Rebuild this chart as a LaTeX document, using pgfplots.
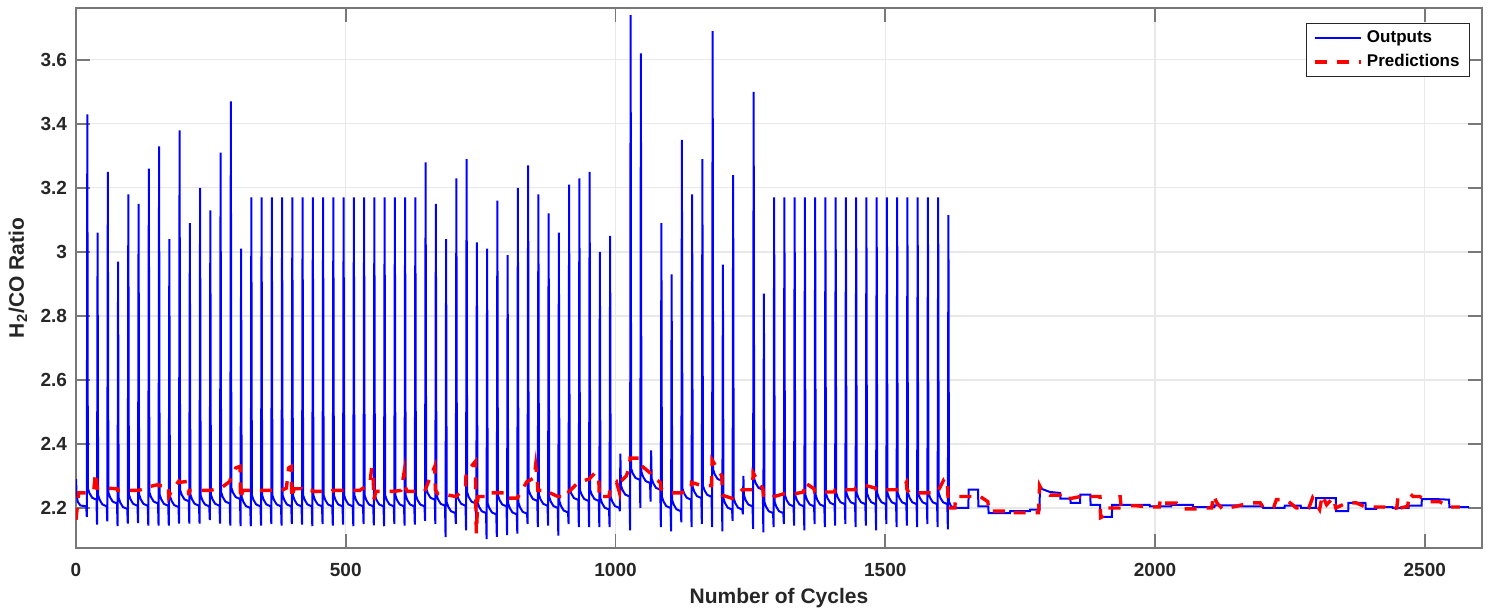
\documentclass[border=0pt]{standalone}
\usepackage{fontspec}
\setmainfont{Liberation Sans}
\usepackage{pgfplots}
\pgfplotsset{compat=1.18}
\definecolor{txt}{RGB}{38,38,38}
\definecolor{axc}{RGB}{120,120,120}
\definecolor{gridc}{RGB}{232,232,232}
\begin{document}
\begin{tikzpicture}
\begin{axis}[
  scale only axis, width=703pt, height=270pt,
  xmin=0, xmax=2606, ymin=2.075, ymax=3.762,
  xtick={0,500,1000,1500,2000,2500},
  ytick={2.2,2.4,2.6,2.8,3.0,3.2,3.4,3.6},
  scaled ticks=false,
  /pgf/number format/1000 sep={},
  /pgf/number format/assume math mode=true,
  tick align=inside, xtick pos=both, ytick pos=both,
  major tick length=7pt,
  tick style={color=axc, line width=0.8pt},
  axis line style={color=axc, line width=0.9pt},
  grid=major, major grid style={color=gridc, line width=0.6pt},
  ticklabel style={font=\fontsize{9.5}{11}\selectfont\bfseries, text=txt},
  xticklabel shift=4pt, yticklabel shift=1pt,
  xlabel={Number of Cycles}, ylabel={H\textsubscript{2}/CO Ratio},
  label style={font=\fontsize{10.5}{12}\selectfont\bfseries, text=txt},
  x label style={at={(axis description cs:0.5,-0.0926)}, anchor=center},
  y label style={at={(axis description cs:-0.0413,0.5)}, anchor=center},
  legend style={at={(rel axis cs:0.9915,0.972)}, anchor=north east,
    font=\fontsize{8.5}{10}\selectfont\bfseries, text=black,
    draw=txt, line width=0.5pt, fill=white, cells={anchor=west},
    inner xsep=3pt, inner ysep=1.5pt, row sep=0.5pt},
  legend image code/.code={\draw[#1] (0cm,0cm) -- (0.82cm,0cm);},
]
\addplot[color=blue, line width=1pt] coordinates {
(0,2.29)(1,2.25)(3,2.22)(8,2.208)(19,2.205)
(20,2.172)(21,3.43)(22,2.261)(25,2.246)(30,2.232)(38,2.226)
(39,2.148)(40,3.06)(41,2.24)(44,2.225)(49,2.211)(57,2.205)
(58,2.158)(59,3.25)(60,2.249)(63,2.234)(68,2.22)(76,2.214)
(77,2.143)(78,2.97)(79,2.232)(82,2.217)(87,2.203)(95,2.197)
(96,2.151)(97,3.18)(98,2.242)(101,2.227)(106,2.213)(114,2.207)
(115,2.153)(116,3.15)(117,2.242)(120,2.227)(125,2.213)(133,2.207)
(134,2.145)(135,3.26)(136,2.249)(139,2.234)(144,2.22)(152,2.214)
(153,2.145)(154,3.33)(155,2.242)(158,2.227)(163,2.213)(171,2.207)
(172,2.145)(173,3.04)(174,2.238)(177,2.223)(182,2.209)(190,2.203)
(191,2.151)(192,3.38)(193,2.256)(196,2.241)(201,2.227)(209,2.221)
(210,2.151)(211,3.09)(212,2.242)(215,2.227)(220,2.213)(228,2.207)
(229,2.151)(230,3.2)(231,2.24)(234,2.225)(239,2.211)(247,2.205)
(248,2.162)(249,3.13)(250,2.242)(253,2.227)(258,2.213)(266,2.207)
(267,2.151)(268,3.31)(269,2.249)(272,2.234)(277,2.22)(285,2.214)
(286,2.145)(287,3.47)(288,2.263)(291,2.248)(296,2.234)(304,2.228)
(305,2.143)(306,3.01)(307,2.235)(310,2.22)(315,2.206)(323,2.2)
(324,2.143)(325,3.17)(326,2.24)(329,2.225)(334,2.211)(342,2.205)
(343,2.145)(344,3.17)(345,2.24)(348,2.225)(353,2.211)(361,2.205)
(362,2.15)(363,3.17)(364,2.24)(367,2.225)(372,2.211)(380,2.205)
(381,2.145)(382,3.17)(383,2.24)(386,2.225)(391,2.211)(399,2.205)
(400,2.15)(401,3.17)(402,2.24)(405,2.225)(410,2.211)(418,2.205)
(419,2.148)(420,3.17)(421,2.24)(424,2.225)(429,2.211)(437,2.205)
(438,2.143)(439,3.17)(440,2.24)(443,2.225)(448,2.211)(456,2.205)
(457,2.15)(458,3.17)(459,2.24)(462,2.225)(467,2.211)(475,2.205)
(476,2.145)(477,3.17)(478,2.24)(481,2.225)(486,2.211)(494,2.205)
(495,2.148)(496,3.17)(497,2.24)(500,2.225)(505,2.211)(513,2.205)
(514,2.143)(515,3.17)(516,2.24)(519,2.225)(524,2.211)(532,2.205)
(533,2.15)(534,3.17)(535,2.24)(538,2.225)(543,2.211)(551,2.205)
(552,2.146)(553,3.17)(554,2.24)(557,2.225)(562,2.211)(570,2.205)
(571,2.143)(572,3.17)(573,2.24)(576,2.225)(581,2.211)(589,2.205)
(590,2.15)(591,3.17)(592,2.24)(595,2.225)(600,2.211)(608,2.205)
(609,2.145)(610,3.17)(611,2.24)(614,2.225)(619,2.211)(627,2.205)
(628,2.148)(629,3.17)(630,2.24)(633,2.225)(638,2.211)(646,2.205)
(647,2.16)(648,3.28)(649,2.261)(652,2.246)(657,2.232)(665,2.226)
(666,2.15)(667,3.15)(668,2.242)(671,2.227)(676,2.213)(684,2.207)
(685,2.109)(686,3.04)(687,2.219)(690,2.204)(695,2.19)(703,2.184)
(704,2.15)(705,3.23)(706,2.242)(709,2.227)(714,2.213)(722,2.207)
(723,2.13)(724,3.29)(725,2.249)(728,2.234)(733,2.22)(741,2.214)
(742,2.124)(743,3.03)(744,2.219)(747,2.204)(752,2.19)(760,2.184)
(761,2.103)(762,3.01)(763,2.215)(766,2.2)(771,2.186)(779,2.18)
(780,2.11)(781,3.16)(782,2.24)(785,2.225)(790,2.211)(798,2.205)
(799,2.115)(800,2.99)(801,2.215)(804,2.2)(809,2.186)(817,2.18)
(818,2.12)(819,3.2)(820,2.217)(823,2.202)(828,2.188)(836,2.182)
(837,2.15)(838,3.27)(839,2.257)(842,2.242)(847,2.228)(855,2.222)
(856,2.14)(857,3.18)(858,2.242)(861,2.227)(866,2.213)(874,2.207)
(875,2.145)(876,3.12)(877,2.235)(880,2.22)(885,2.206)(893,2.2)
(894,2.114)(895,3.06)(896,2.221)(899,2.206)(904,2.192)(912,2.186)
(913,2.15)(914,3.21)(915,2.26)(918,2.245)(923,2.231)(931,2.225)
(932,2.14)(933,3.23)(934,2.257)(937,2.242)(942,2.228)(950,2.222)
(951,2.14)(952,3.25)(953,2.257)(956,2.242)(961,2.228)(969,2.222)
(970,2.14)(971,3.0)(972,2.23)(975,2.215)(980,2.201)(988,2.195)
(989,2.14)(990,3.05)(991,2.235)(994,2.22)(999,2.206)(1007,2.2)
(1008,2.19)(1009,2.37)(1010,2.271)(1013,2.256)(1018,2.242)(1026,2.236)
(1027,2.13)(1028,3.74)(1029,2.323)(1032,2.308)(1037,2.294)(1045,2.288)
(1046,2.2)(1047,3.62)(1048,2.313)(1051,2.298)(1056,2.284)(1064,2.278)
(1065,2.22)(1066,2.38)(1067,2.292)(1070,2.277)(1075,2.263)(1083,2.257)
(1084,2.14)(1085,3.09)(1086,2.235)(1089,2.22)(1094,2.206)(1102,2.2)
(1103,2.127)(1104,2.93)(1105,2.225)(1108,2.21)(1113,2.196)(1121,2.19)
(1122,2.155)(1123,3.35)(1124,2.261)(1127,2.246)(1132,2.232)(1140,2.226)
(1141,2.14)(1142,3.18)(1143,2.266)(1146,2.251)(1151,2.237)(1159,2.231)
(1160,2.15)(1161,3.29)(1162,2.27)(1165,2.255)(1170,2.241)(1178,2.235)
(1179,2.14)(1180,3.69)(1181,2.32)(1184,2.305)(1189,2.291)(1197,2.285)
(1198,2.127)(1199,2.96)(1200,2.23)(1203,2.215)(1208,2.201)(1216,2.195)
(1217,2.16)(1218,3.24)(1219,2.23)(1222,2.215)(1227,2.201)(1235,2.195)
(1236,2.18)(1237,2.3)(1238,2.24)(1241,2.225)(1246,2.211)(1254,2.205)
(1255,2.135)(1256,3.5)(1257,2.292)(1260,2.277)(1265,2.263)(1273,2.257)
(1274,2.124)(1275,2.87)(1276,2.219)(1279,2.204)(1284,2.19)(1292,2.184)
(1293,2.14)(1294,3.17)(1295,2.219)(1298,2.204)(1303,2.19)(1311,2.184)
(1312,2.15)(1313,3.17)(1314,2.24)(1317,2.225)(1322,2.211)(1330,2.205)
(1331,2.145)(1332,3.17)(1333,2.24)(1336,2.225)(1341,2.211)(1349,2.205)
(1350,2.13)(1351,3.17)(1352,2.24)(1355,2.225)(1360,2.211)(1368,2.205)
(1369,2.15)(1370,3.17)(1371,2.24)(1374,2.225)(1379,2.211)(1387,2.205)
(1388,2.14)(1389,3.17)(1390,2.245)(1393,2.23)(1398,2.216)(1406,2.21)
(1407,2.145)(1408,3.17)(1409,2.247)(1412,2.232)(1417,2.218)(1425,2.212)
(1426,2.15)(1427,3.17)(1428,2.247)(1431,2.232)(1436,2.218)(1444,2.212)
(1445,2.14)(1446,3.17)(1447,2.247)(1450,2.232)(1455,2.218)(1463,2.212)
(1464,2.145)(1465,3.17)(1466,2.247)(1469,2.232)(1474,2.218)(1482,2.212)
(1483,2.13)(1484,3.17)(1485,2.247)(1488,2.232)(1493,2.218)(1501,2.212)
(1502,2.15)(1503,3.17)(1504,2.247)(1507,2.232)(1512,2.218)(1520,2.212)
(1521,2.14)(1522,3.17)(1523,2.247)(1526,2.232)(1531,2.218)(1539,2.212)
(1540,2.145)(1541,3.17)(1542,2.247)(1545,2.232)(1550,2.218)(1558,2.212)
(1559,2.14)(1560,3.17)(1561,2.247)(1564,2.232)(1569,2.218)(1577,2.212)
(1578,2.15)(1579,3.17)(1580,2.247)(1583,2.232)(1588,2.218)(1596,2.212)
(1597,2.14)(1598,3.17)(1599,2.247)(1602,2.232)(1607,2.218)(1615,2.212)
(1616,2.133)(1617,3.115)(1618,2.22)(1622,2.205)(1634,2.2)
(1654,2.2)(1654.5,2.257)(1672,2.257)(1672.5,2.205)(1691,2.205)(1691.5,2.184)
(1731,2.184)(1731.5,2.19)(1768,2.19)(1768.5,2.195)(1786,2.195)(1786.5,2.262)
(1805,2.25)(1824,2.247)(1824.5,2.229)(1843,2.229)(1843.5,2.216)(1861,2.216)
(1861.5,2.242)(1880,2.242)(1880.5,2.21)(1898,2.21)(1898.5,2.172)(1920,2.172)
(1920.5,2.21)(1990,2.21)(1990.5,2.205)(2030,2.205)(2030.5,2.21)(2070,2.21)
(2070.5,2.203)(2110,2.203)(2110.5,2.208)(2150,2.208)(2150.5,2.205)(2200,2.205)
(2200.5,2.2)(2240,2.2)(2240.5,2.207)(2270,2.207)(2270.5,2.2)(2298,2.2)
(2298.5,2.231)(2335,2.231)(2335.5,2.19)(2358,2.19)(2358.5,2.216)(2390,2.216)
(2390.5,2.197)(2410,2.197)(2410.5,2.203)(2440,2.203)(2440.5,2.2)(2470,2.2)
(2470.5,2.207)(2494,2.207)(2494.5,2.228)(2516,2.228)(2545,2.226)(2545.5,2.203)
(2582,2.203)
};
\addlegendentry{Outputs}
\addplot[color=red, line width=1.7pt, dash pattern=on 6pt off 5pt] coordinates {
(0,2.163)(5,2.247)(19,2.247)
(20,2.25)(33,2.255)(36,2.31)(38,2.285)
(39,2.262)(57,2.262)
(58,2.262)(76,2.26)
(77,2.255)(95,2.255)
(96,2.255)(114,2.255)
(115,2.255)(133,2.262)
(134,2.266)(152,2.273)
(153,2.27)(171,2.27)
(172,2.236)(176,2.25)(190,2.283)
(191,2.28)(207,2.283)(209,2.24)
(210,2.255)(228,2.255)
(229,2.255)(247,2.255)
(248,2.255)(266,2.26)
(267,2.26)(285,2.283)
(286,2.29)(296,2.325)(304,2.33)
(305,2.226)(309,2.255)(323,2.255)
(324,2.255)(342,2.255)
(343,2.255)(361,2.255)
(362,2.255)(380,2.255)
(381,2.255)(390,2.262)(394,2.325)(399,2.33)
(400,2.23)(404,2.26)(418,2.26)
(419,2.255)(437,2.255)
(438,2.252)(456,2.252)
(457,2.252)(475,2.252)
(476,2.255)(494,2.255)
(495,2.255)(513,2.255)
(514,2.255)(526,2.255)(532,2.262)
(533,2.262)(545,2.28)(548,2.325)(551,2.29)
(552,2.226)(556,2.252)(570,2.252)
(571,2.252)(589,2.252)
(590,2.252)(602,2.255)(605,2.28)(608,2.31)
(609,2.27)(614,2.252)(627,2.252)
(628,2.252)(646,2.252)
(647,2.255)(655,2.29)(665,2.33)
(666,2.257)(670,2.245)(684,2.245)
(685,2.242)(703,2.236)
(704,2.236)(722,2.262)
(723,2.31)(740,2.345)
(742,2.12)(745,2.236)(760,2.236)
(761,2.247)(779,2.247)
(780,2.247)(798,2.247)
(799,2.231)(817,2.231)
(818,2.231)(836,2.283)
(837,2.283)(849,2.294)(852,2.335)(855,2.29)
(856,2.255)(874,2.255)
(875,2.25)(893,2.236)
(894,2.236)(912,2.236)
(913,2.25)(931,2.28)
(932,2.28)(950,2.29)
(951,2.29)(962,2.31)(969,2.29)
(970,2.23)(977,2.236)(988,2.236)
(989,2.25)(1002,2.28)(1007,2.25)
(1008,2.28)(1020,2.30)(1026,2.33)
(1027,2.356)(1045,2.356)
(1046,2.335)(1064,2.31)
(1065,2.30)(1083,2.28)
(1084,2.26)(1102,2.247)
(1103,2.247)(1121,2.247)
(1122,2.247)(1140,2.26)
(1141,2.28)(1159,2.27)
(1160,2.27)(1178,2.27)
(1179,2.35)(1197,2.30)
(1198,2.24)(1216,2.23)
(1217,2.23)(1235,2.257)
(1236,2.257)(1254,2.257)
(1255,2.31)(1262,2.29)(1273,2.26)
(1274,2.24)(1292,2.23)
(1293,2.235)(1311,2.244)
(1312,2.244)(1330,2.244)
(1331,2.244)(1349,2.25)
(1350,2.28)(1368,2.26)
(1369,2.25)(1387,2.25)
(1388,2.25)(1406,2.25)
(1407,2.257)(1425,2.257)
(1426,2.257)(1444,2.257)
(1445,2.262)(1463,2.27)
(1464,2.27)(1482,2.262)
(1483,2.257)(1501,2.257)
(1502,2.257)(1520,2.257)
(1521,2.257)(1532,2.262)(1539,2.28)
(1540,2.26)(1544,2.247)(1558,2.247)
(1559,2.247)(1577,2.247)
(1578,2.247)(1596,2.247)
(1597,2.25)(1609,2.29)(1615,2.29)
(1617,2.20)(1629,2.20)(1630,2.236)(1660,2.236)(1672,2.24)(1690,2.22)
(1692,2.19)(1730,2.19)(1731,2.185)(1784,2.185)(1786,2.27)(1790,2.257)
(1805,2.24)(1824,2.24)(1825,2.23)(1845,2.23)(1862,2.236)(1898,2.236)
(1899,2.17)(1905,2.175)(1912,2.2)(1933,2.2)(1935,2.24)(1937,2.207)
(1965,2.207)(1990,2.203)(2008,2.203)(2010,2.23)(2018,2.215)(2040,2.215)
(2050,2.197)(2080,2.197)(2086,2.2)(2105,2.2)(2108,2.24)(2115,2.215)
(2125,2.197)(2150,2.205)(2175,2.216)(2195,2.216)(2200,2.203)(2220,2.203)
(2225,2.226)(2243,2.226)(2262,2.2)(2285,2.2)(2292,2.232)(2305,2.195)
(2310,2.24)(2318,2.21)(2330,2.232)(2335,2.2)(2355,2.216)(2373,2.216)
(2390,2.203)(2425,2.203)(2430,2.195)(2448,2.2)(2450,2.23)(2455,2.2)
(2468,2.205)(2472,2.246)(2478,2.236)(2490,2.236)(2508,2.22)(2527,2.22)
(2545,2.203)(2565,2.203)
};
\addlegendentry{Predictions}
\end{axis}
\path ([xshift=-38pt,yshift=-33.5pt]current axis.south west) rectangle ([xshift=4pt,yshift=4pt]current axis.north east);
\end{tikzpicture}
\end{document}
